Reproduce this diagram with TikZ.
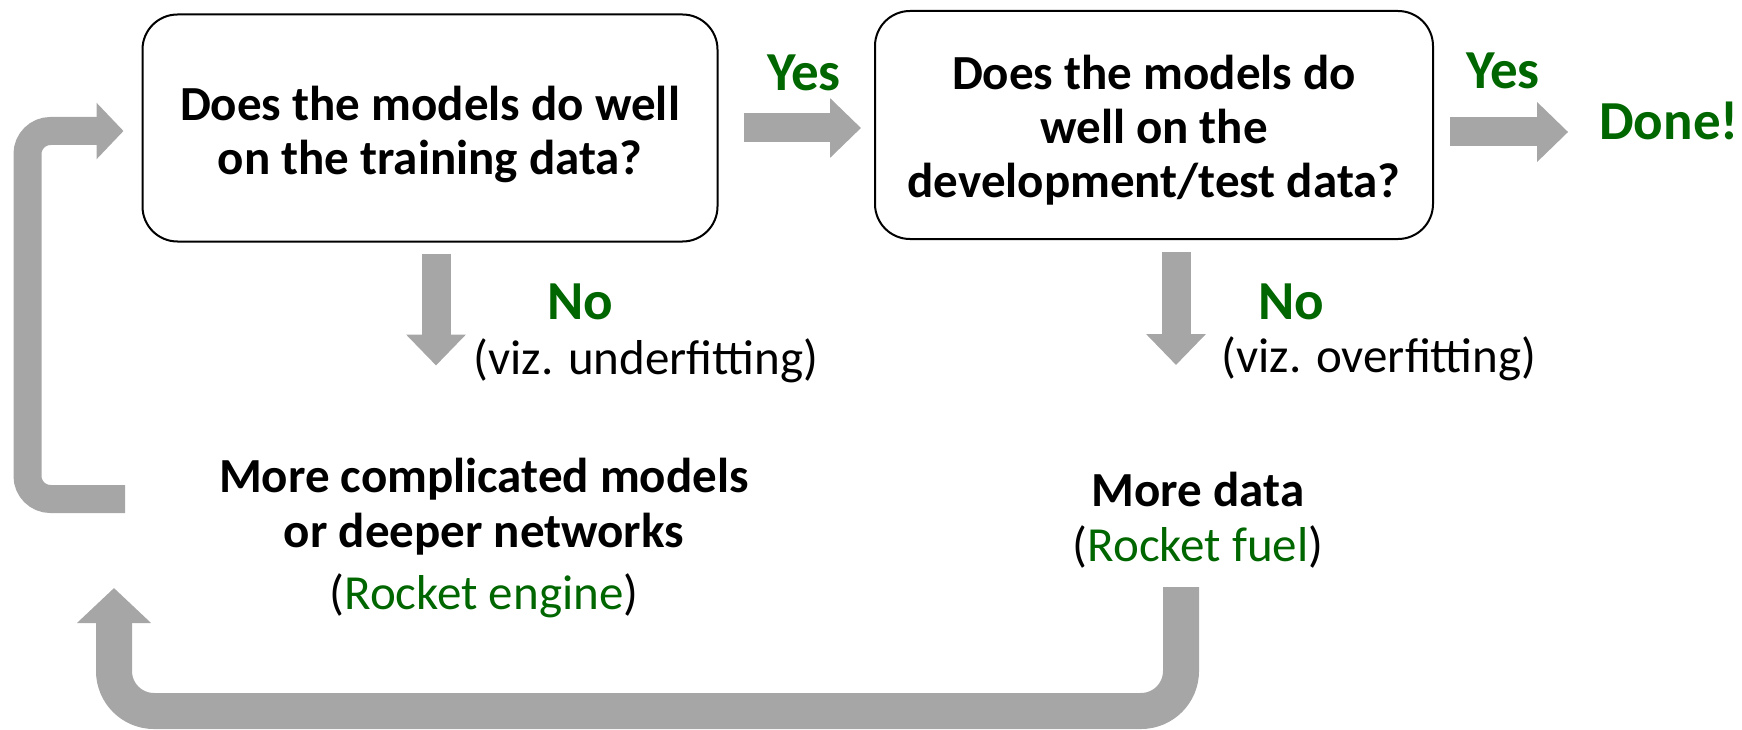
\documentclass[tikz,border=0pt]{standalone}
\usepackage{fontspec}
\setmainfont{Carlito}
\usetikzlibrary{positioning,arrows.meta}
\definecolor{okgreen}{RGB}{0,102,0}
\definecolor{flowgray}{RGB}{166,166,166}

\begin{document}
\begin{tikzpicture}[x=1pt,y=-1pt,
				question/.style={draw,line width=2pt,rounded corners=35pt,align=center,inner sep=0pt,
					font=\bfseries\fontsize{49}{54}\selectfont},
				answer/.style={text=okgreen,inner sep=2pt,font=\bfseries\fontsize{55}{60}\selectfont},
				remedy/.style={align=center,inner sep=2pt,font=\bfseries\fontsize{49}{55}\selectfont},
				remark/.style={align=center,inner sep=2pt,font=\fontsize{49}{55}\selectfont},
				fat/.style={draw=flowgray,line width=29pt,-{Triangle[length=31pt,width=58pt]}}]
				\useasboundingbox (0,0) rectangle (1742,730);

				\node (Q1)     [question,minimum width=575pt,minimum height=227pt] at (430,128)
					{\rule{0pt}{48pt}Does the models do well\\on the training data?};
				\node (Q2)     [question,minimum width=558pt,minimum height=228pt] at (1154,125)
					{\rule{0pt}{44pt}Does the models do\\well on the\\development/test data?};
				\node (YES1)   [answer] at (804,73)   {Yes};
				\node (YES2)   [answer] at (1503,71)  {Yes};
				\node (DONE)   [answer] at (1669,121) {Done!};
				\node (NO1)    [answer] at (580,302)  {No};
				\node (NO2)    [answer] at (1291,302) {No};
				\node (UNDER)  [remark] at (646,361)  {(viz. underfitting)};
				\node (OVER)   [remark] at (1379,359) {(viz. overfitting)};
				\node (ENGINE) [remedy] at (484,507)  {More complicated models\\or deeper networks};
				\node (ENGINEX)[remark,below=14pt of ENGINE] {(\textcolor{okgreen}{Rocket engine})};
				\node (FUEL)   [remedy] at (1198,489) {More data};
				\node (FUELX)  [remark,below=15pt of FUEL] {(\textcolor{okgreen}{Rocket fuel})};

				\coordinate (LOOPA) at (125,499);
				\coordinate (LOOPB) at (1181,587);
				\coordinate (LOOPC) at (114,588);

				\draw[fat,shorten <=25pt,shorten >=13pt] (Q1.east) -- (Q1.east -| Q2.west);
				\draw[fat,shorten <=16pt,shorten >=29pt] ([yshift=-7pt]Q2.east) -- ([yshift=-7pt]Q2.east -| DONE.west);
				\draw[fat,shorten <=11pt] ([xshift=6pt]Q1.south) -- ++(0,123);
				\draw[fat,shorten <=12pt] ([xshift=22pt]Q2.south) -- ++(0,125);
				\draw[fat,line width=28pt,rounded corners=23pt,-{Triangle[length=27pt,width=55pt]}]
					(LOOPA) -| (27.5,131) -- ([xshift=-18pt,yshift=-3pt]Q1.west);
				\draw[fat,line width=36pt,rounded corners=40pt,-{Triangle[length=35pt,width=72pt]}]
					(LOOPB) |- (114,711) -- (LOOPC);
			\end{tikzpicture}
\end{document}
